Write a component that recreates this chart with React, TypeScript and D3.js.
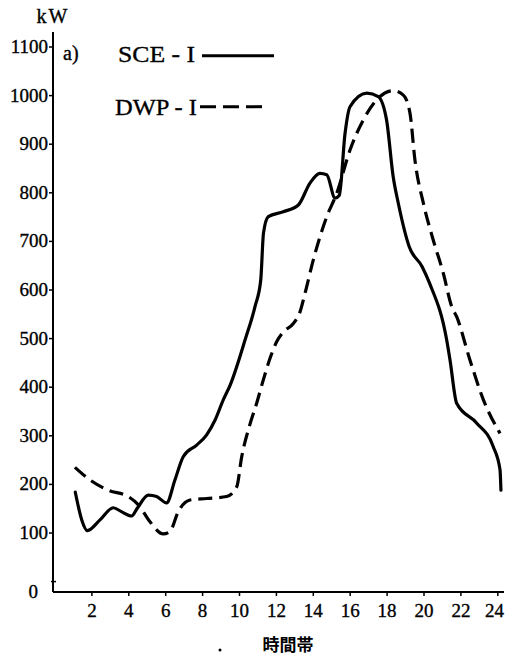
import React from "react";
import * as d3 from "d3";

const yTicks = [100, 200, 300, 400, 500, 600, 700, 800, 900, 1000, 1100];
const xTicks = [2, 4, 6, 8, 10, 12, 14, 16, 18, 20, 22, 24];

const sceHours = [1.1, 1.45, 1.75, 2.44, 3.16, 3.6, 4.15, 4.46, 5.06, 5.51, 6.05, 6.5, 6.95, 7.68, 8.22, 8.67, 9.12, 9.5, 10.3, 10.84, 11.15, 11.3, 11.56, 12.37, 13.19, 13.82, 14.36, 14.73, 15.18, 15.41, 15.72, 15.99, 16.9, 17.52, 17.97, 18.33, 18.61, 19.2, 19.9, 20.3, 21.23, 21.41, 21.77, 22.86, 23.75, 24.12, 24.17];
const sceValues = [184, 127, 105, 127, 152, 144, 135, 151, 178, 175, 162, 209, 257, 281, 302, 332, 374, 405, 497, 566, 620, 717, 751, 761, 775, 820, 840, 837, 789, 795, 922, 977, 1005, 998, 950, 833, 778, 689, 648, 614, 497, 456, 367, 326, 278, 230, 188];

const dwpHours = [1.08, 1.9, 2.89, 3.97, 4.52, 5.15, 5.87, 6.23, 6.68, 7.32, 8.22, 9.3, 9.85, 10.12, 10.57, 10.93, 11.29, 11.65, 12.02, 12.38, 12.92, 13.28, 13.55, 14.0, 14.73, 15.27, 15.99, 16.71, 17.43, 18.33, 18.88, 19.24, 19.51, 19.97, 20.5, 21.05, 21.5, 21.77, 22.49, 23.22, 24.12];
const dwpValues = [235, 209, 188, 175, 158, 123, 98, 103, 144, 168, 171, 175, 195, 257, 324, 367, 415, 459, 494, 514, 531, 555, 593, 662, 751, 799, 888, 950, 991, 1010, 1001, 964, 867, 778, 703, 634, 566, 545, 456, 374, 305];

const serif = "'Liberation Serif', 'Times New Roman', serif";

export default function App() {
  const x = d3.scaleLinear().domain([0, 24]).range([55, 497.8]);
  const y = d3.scaleLinear().domain([0, 1100]).range([581.6, 47]);
  const line = d3
    .line<[number, number]>()
    .x((d) => x(d[0]))
    .y((d) => y(d[1]))
    .curve(d3.curveMonotoneX);
  const sce = sceHours.map((h, i) => [h, sceValues[i]] as [number, number]);
  const dwp = dwpHours.map((h, i) => [h, dwpValues[i]] as [number, number]);
  const axisY = 592;
  const axisX = 53;
  const txt = { fontFamily: serif, stroke: "#000", strokeWidth: 0.35 };

  return (
    <svg
      width={505}
      height={656}
      style={{ position: "absolute", left: 0, top: 0, background: "#fff" }}
    >
      <rect x={0} y={0} width={505} height={656} fill="#fff" />
      {/* axes */}
      <line x1={axisX} y1={32} x2={axisX} y2={axisY} stroke="#000" strokeWidth={2} />
      <line x1={axisX} y1={axisY} x2={504} y2={axisY} stroke="#000" strokeWidth={2} />
      {yTicks.map((t) => (
        <g key={t}>
          <line x1={axisX - 4} x2={axisX} y1={y(t)} y2={y(t)} stroke="#000" strokeWidth={1.5} />
          <text x={48} y={y(t) + 6} textAnchor="end" fontSize={19} {...txt}>
            {t}
          </text>
        </g>
      ))}
      <line x1={axisX - 2} x2={axisX + 3} y1={y(0)} y2={y(0)} stroke="#000" strokeWidth={1.5} />
      <text x={38} y={598} textAnchor="end" fontSize={19} {...txt}>
        0
      </text>
      {xTicks.map((t) => (
        <g key={t}>
          <line x1={x(t)} x2={x(t)} y1={axisY} y2={axisY + 4} stroke="#000" strokeWidth={1.5} />
          <text
            x={t === 24 ? 504 : x(t)}
            y={617}
            textAnchor={t === 24 ? "end" : "middle"}
            fontSize={19}
            {...txt}
          >
            {t}
          </text>
        </g>
      ))}
      <text x={52} y={23} textAnchor="middle" fontSize={20} textLength={31} {...txt}>
        kW
      </text>
      <text x={63} y={60} fontSize={20} {...txt}>
        a)
      </text>
      {/* legend */}
      <text x={118} y={62} fontSize={24} textLength={77} lengthAdjust="spacingAndGlyphs" {...txt}>
        SCE - I
      </text>
      <line x1={202} x2={274} y1={55.7} y2={55.7} stroke="#000" strokeWidth={3} />
      <text x={115} y={115} fontSize={24} textLength={82} lengthAdjust="spacingAndGlyphs" {...txt}>
        DWP - I
      </text>
      <line x1={200} x2={269} y1={106.7} y2={106.7} stroke="#000" strokeWidth={3} strokeDasharray="16,7" />
      {/* series */}
      <path d={line(sce) || ""} fill="none" stroke="#000" strokeWidth={3.2} strokeLinejoin="round" strokeLinecap="round" />
      <path d={line(dwp) || ""} fill="none" stroke="#000" strokeWidth={3.2} strokeDasharray="14,7" />
      {/* x label */}
      <circle cx={220} cy={650} r={1.5} fill="#000" />
      <text x={288} y={651} textAnchor="middle" fontFamily="'Noto Sans CJK JP', sans-serif" fontWeight={700} fontSize={17}>
        時間帯
      </text>
    </svg>
  );
}
